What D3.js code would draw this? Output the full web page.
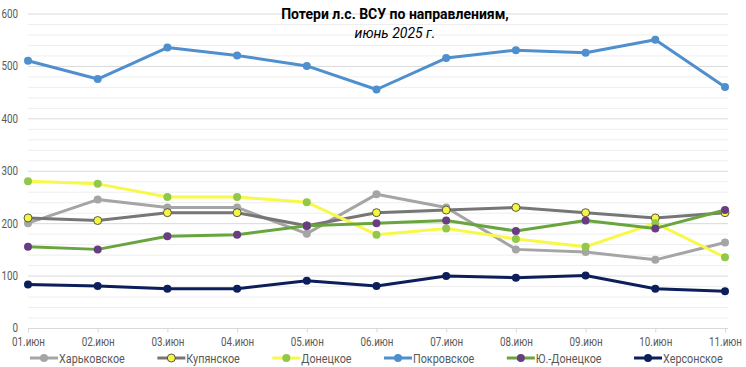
<!DOCTYPE html>
<html><head><meta charset="utf-8">
<script src="https://cdn.jsdelivr.net/npm/d3@7/dist/d3.min.js"></script>
<style>
html,body{margin:0;padding:0;background:#fff;}
svg{display:block;font-family:Roboto,"Liberation Sans",sans-serif;}
</style></head>
<body>
<svg id="c" width="746" height="367"></svg>
<script>
const categories = ["01.июн","02.июн","03.июн","04.июн","05.июн","06.июн","07.июн","08.июн","09.июн","10.июн","11.июн"];
const kharkiv   = [200,245,230,230,180,255,230,150,145,130,163];
const kupyansk  = [210,205,220,220,195,220,225,230,220,210,220];
const donetsk   = [280,275,250,250,240,178,190,170,155,200,135];
const pokrovsk  = [510,475,535,520,500,455,515,530,525,550,460];
const yuDonetsk = [155,150,175,178,195,200,205,185,205,190,225];
const kherson   = [83,80,75,75,90,80,99,96,100,75,70];
const yTicks = [0,100,200,300,400,500,600];
const titleText = "Потери л.с. ВСУ по направлениям,";
const subtitleText = "июнь 2025 г.";

const series = [
  {name:"Харьковское", values:kharkiv, line:"#A5A5A5", fill:"#A5A5A5", stroke:"none"},
  {name:"Купянское", values:kupyansk, line:"#767676", fill:"#F5F545", stroke:"#333"},
  {name:"Донецкое", values:donetsk, line:"#F8F84A", fill:"#92C84A", stroke:"none"},
  {name:"Покровское", values:pokrovsk, line:"#4F8FCE", fill:"#4F8FCE", stroke:"none"},
  {name:"Ю.-Донецкое", values:yuDonetsk, line:"#68A53E", fill:"#6A3C82", stroke:"none"},
  {name:"Херсонское", values:kherson, line:"#0D1F5A", fill:"#0D1F5A", stroke:"none"}
];
const SX = 0.82;   // horizontal squeeze to mimic narrow font
const SL = 0.9;

const svg = d3.select("#c");
const x = d3.scalePoint().domain(categories).range([28,725]);
const y = d3.scaleLinear().domain([0,600]).range([328,13.5]);

// grid
const minor = d3.range(0,601,20);
svg.append("g").selectAll("line").data(minor).join("line")
  .attr("x1",28).attr("x2",728)
  .attr("y1",d=>y(d)+0.5).attr("y2",d=>y(d)+0.5)
  .attr("stroke",d=>d%100===0?"#D9D9D9":"#EEEEEE").attr("stroke-width",1);

// y axis labels
const ya = svg.append("g").attr("transform","translate(18,0)")
  .call(d3.axisLeft(y).tickValues(yTicks).tickSize(0).tickPadding(0));
ya.select(".domain").remove();
ya.selectAll("text").attr("fill","#595959").style("font-size","12px")
  .style("font-family","Roboto,sans-serif").attr("transform",`scale(${SX},1)`);

// x axis
const xa = svg.append("g").attr("transform","translate(0,328.5)")
  .call(d3.axisBottom(x).tickSize(4).tickPadding(5));
xa.select(".domain").attr("stroke","#D9D9D9").attr("d","M28,0H728");
xa.selectAll(".tick line").attr("stroke","#D9D9D9");
xa.selectAll("text").attr("fill","#595959").style("font-size","12px")
  .style("font-family","Roboto,sans-serif").attr("transform",`scale(${SX},1)`);

// title
svg.append("text").attr("x",395).attr("y",19).attr("text-anchor","middle")
  .style("font-weight","bold").style("font-size","14px").attr("fill","#000")
  .text(titleText);
svg.append("text").attr("x",395).attr("y",38).attr("text-anchor","middle")
  .style("font-style","italic").style("font-size","14px").attr("fill","#000")
  .text(subtitleText);

// lines
const line = d3.line().x((d,i)=>x(categories[i])).y(d=>y(d));
const g = svg.append("g");
series.forEach(s=>{
  const sg = g.append("g");
  sg.append("path").datum(s.values).attr("d",line).attr("fill","none")
    .attr("stroke",s.line).attr("stroke-width",3).attr("stroke-linejoin","round");
  sg.selectAll("circle").data(s.values).join("circle")
    .attr("cx",(d,i)=>x(categories[i])).attr("cy",d=>y(d)).attr("r",4)
    .attr("fill",s.fill).attr("stroke",s.stroke).attr("stroke-width",s.stroke==="none"?0:0.8);
});

// legend
const leg = svg.append("g");
const items = leg.selectAll("g").data(series).join("g");
items.append("line").attr("x1",0).attr("x2",28).attr("y1",0).attr("y2",0)
  .attr("stroke",d=>d.line).attr("stroke-width",3);
items.append("circle").attr("cx",14).attr("cy",0).attr("r",4)
  .attr("fill",d=>d.fill).attr("stroke",d=>d.stroke).attr("stroke-width",d=>d.stroke==="none"?0:0.8);
items.append("g").attr("transform",`translate(29,0) scale(${SL},1)`)
  .append("text").attr("x",0).attr("y",4.5).attr("fill","#595959")
  .style("font-size","12px").text(d=>d.name);
let pos = 30;
items.each(function(){
  const w = d3.select(this).select("text").node().getComputedTextLength()*SL;
  d3.select(this).attr("transform",`translate(${pos},358)`);
  pos += 29 + w + 32.5;
});
</script>
</body></html>
